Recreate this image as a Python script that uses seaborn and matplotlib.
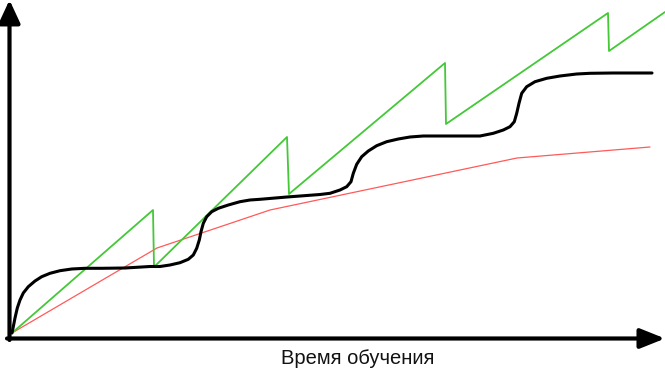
import matplotlib
matplotlib.use("Agg")
import matplotlib.pyplot as plt
import seaborn as sns

# Data (arbitrary units: time -> x, level -> y)
green_x = [0, 141, 142, 275, 277, 433, 434, 596, 597, 653]
green_y = [0, 123, 66, 196, 139, 270, 209, 320, 282, 321]

red_x = [0, 145, 258, 505, 638]
red_y = [0, 85, 123, 175, 186]

black_x = [0, 1.3, 3, 5.3, 8, 11.3, 16.3, 23, 29.7, 38, 48, 59.7, 73, 89.7,
           113, 138, 148, 158, 168, 176.3, 181.3, 184.7, 187.3, 189, 191.3,
           194.7, 199.7, 206.3, 216.3, 228, 238, 248, 275, 308, 318, 328,
           334.7, 339, 341.3, 344.7, 349.7, 356.3, 364.7, 374.7, 386.3, 398,
           411.3, 438, 468, 481.3, 491.3, 498, 502.3, 504.7, 507, 509.7,
           514.7, 523, 534.7, 548, 564.7, 578, 601, 640]
black_y = [0, 6.3, 15, 25, 33, 40, 46.3, 52, 56.3, 59.7, 62.3, 64, 64.7, 64.7,
           65, 66.5, 66.5, 68, 70.3, 73.7, 78, 84.7, 93, 101.3, 109.7,
           116.3, 121.3, 124.7, 128, 131.3, 133, 133.7, 136, 138.5, 139.7, 143,
           146.3, 151.3, 159.7, 168.7, 176.3, 182, 187.3, 191.3, 194, 196,
           197, 197, 197, 199.7, 203, 206.3, 211.3, 219.7, 229.7, 239.7,
           246.3, 251.3, 254.7, 257, 259, 259.7, 260, 260]

x_label = "Время обучения"

sns.set_theme(style="white")
plt.rcParams["font.family"] = ["Liberation Sans", "DejaVu Sans"]

fig = plt.figure(figsize=(6.65, 3.83), dpi=100)
ax = fig.add_axes([0, 0, 1, 1])
ax.set_xlim(-12, 653)
ax.set_ylim(-50, 333)
ax.axis("off")

sns.lineplot(x=red_x, y=red_y, color="#ff5a5a", lw=0.9, ax=ax,
             estimator=None, sort=False)
sns.lineplot(x=green_x, y=green_y, color="#44c838", lw=1.3, ax=ax,
             estimator=None, sort=False)
sns.lineplot(x=black_x, y=black_y, color="black", lw=2.2, ax=ax,
             estimator=None, sort=False, solid_joinstyle="round",
             solid_capstyle="round")

# Axis arrows
ax.annotate("", xy=(-2.5, 333), xytext=(-2.5, -7),
            arrowprops=dict(arrowstyle="-|>,head_length=1.4,head_width=0.65",
                            lw=3, color="black", shrinkA=0, shrinkB=0,
                            mutation_scale=10))
ax.annotate("", xy=(653, -5.5), xytext=(-5, -5.5),
            arrowprops=dict(arrowstyle="-|>,head_length=1.5,head_width=0.6",
                            lw=3, color="black", shrinkA=0, shrinkB=0,
                            mutation_scale=10))

ax.text(346, -26, x_label, ha="center", va="center", fontsize=14.5,
        color="#111111")

fig.savefig("out.png", dpi=100)
